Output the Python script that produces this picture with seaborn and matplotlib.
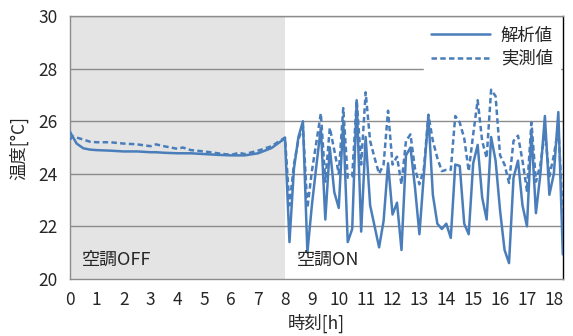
import numpy as np
import pandas as pd
import matplotlib
matplotlib.use("Agg")
import matplotlib.pyplot as plt
import seaborn as sns

# 空調OFF period (0-8h)
off_time = [0, 0.1, 0.25, 0.5, 0.75, 1, 1.5, 2, 2.5, 3, 3.2, 3.5, 4, 4.2, 4.5,
            5, 5.5, 6, 6.3, 6.5, 7, 7.5, 8]
off_calc = [25.6, 25.42, 25.15, 24.97, 24.92, 24.9, 24.88, 24.85, 24.85, 24.82,
            24.82, 24.8, 24.78, 24.78, 24.78, 24.75, 24.72, 24.7, 24.7, 24.7,
            24.78, 24.98, 25.35]
off_meas = [25.3, 25.42, 25.38, 25.3, 25.22, 25.2, 25.2, 25.15, 25.12, 25.05,
            25.12, 25.05, 24.95, 25.0, 24.9, 24.85, 24.78, 24.72, 24.8, 24.75,
            24.88, 25.05, 25.38]

# 空調ON period, 10-minute steps from 8h
on_steps = list(range(1, 63))
on_calc = [21.4, 24.2, 25.4, 26.0, 21.0, 22.8, 24.3, 25.75, 22.26, 25.0,
           23.3, 22.7, 26.0, 21.4, 21.9, 26.8, 21.8, 25.4, 22.8, 22.0,
           21.2, 22.2, 24.4, 22.45, 22.9, 21.1, 24.7, 25.0, 23.5, 21.7,
           24.0, 26.2, 23.2, 22.1, 21.9, 22.1, 21.56, 24.35, 24.3, 22.1,
           21.7, 24.4, 25.1, 23.1, 22.26, 25.4, 24.5, 22.6, 21.1, 20.6,
           23.85, 24.5, 22.8, 22.0, 25.6, 22.5, 24.0, 26.2, 23.2, 24.0,
           26.35, 20.93]
on_meas = [22.8, 24.35, 25.3, 25.8, 22.7, 24.1, 25.2, 26.3, 23.7, 25.75,
           24.9, 24.0, 26.5, 23.85, 23.9, 26.8, 24.35, 27.1, 25.25, 24.6,
           24.0, 24.35, 26.4, 24.35, 24.65, 23.6, 25.25, 25.5, 24.2, 23.6,
           24.2, 26.25, 25.25, 24.6, 24.1, 24.15, 24.15, 26.2, 25.95, 25.35,
           24.1, 25.5, 26.8, 25.25, 24.6, 27.2, 26.95, 24.7, 24.35, 23.65,
           25.25, 25.45, 24.5, 23.35, 25.95, 23.7, 24.35, 25.6, 23.9, 24.7,
           25.75, 22.5]

time = off_time + [8 + s / 6 for s in on_steps]
df = pd.DataFrame({
    "time": time,
    "calc": off_calc + on_calc,
    "meas": off_meas + on_meas,
})

sns.set_style("white")
plt.rcParams["font.family"] = ["Noto Sans CJK JP", "DejaVu Sans"]

blue = "#4a7ebb"
fig = plt.figure(figsize=(5.73, 3.36), dpi=100)
ax = fig.add_axes([0.122, 0.170, 0.861, 0.782])

ax.axvspan(0, 8, color="#e4e4e4", lw=0, zorder=0)
for y in [22, 24, 26, 28, 30]:
    ax.axhline(y, color="#8c8c8c", lw=1.0, zorder=1)

sns.lineplot(data=df, x="time", y="calc", ax=ax, color=blue, lw=1.8,
             sort=False, label="解析値", zorder=3)
sns.lineplot(data=df, x="time", y="meas", ax=ax, color=blue, lw=1.8,
             linestyle=(0, (2.2, 1.3)), sort=False, label="実測値", zorder=3)

ax.set_xlim(0, 18.35)
ax.set_ylim(20, 30)
ax.set_xticks(range(0, 19))
ax.set_yticks(range(20, 31, 2))
ax.tick_params(axis="x", direction="in", length=4, color="#8c8c8c",
               labelsize=12.5, pad=9)
ax.tick_params(axis="y", length=0, labelsize=12.5, pad=9)

for side in ["left", "bottom", "top"]:
    ax.spines[side].set_color("#8c8c8c")
    ax.spines[side].set_linewidth(1.0)
ax.spines["right"].set_color("black")
ax.spines["right"].set_linewidth(1.0)

ax.text(0.45, 20.55, "空調OFF", fontsize=13)
ax.text(8.45, 20.55, "空調ON", fontsize=13)

ax.set_xlabel("時刻[h]", fontsize=12.5, labelpad=3)
ax.set_ylabel("温度[°C]", fontsize=12.5, labelpad=7)

leg = ax.legend(loc="upper right", frameon=True, fontsize=12.5,
                handlelength=3.4, borderaxespad=0.2, labelspacing=0.3,
                handletextpad=0.6, fancybox=False)
leg.get_frame().set_edgecolor("white")
leg.get_frame().set_facecolor("white")
leg.get_frame().set_alpha(1)
leg.set_zorder(5)

fig.savefig("out.png", dpi=100)
